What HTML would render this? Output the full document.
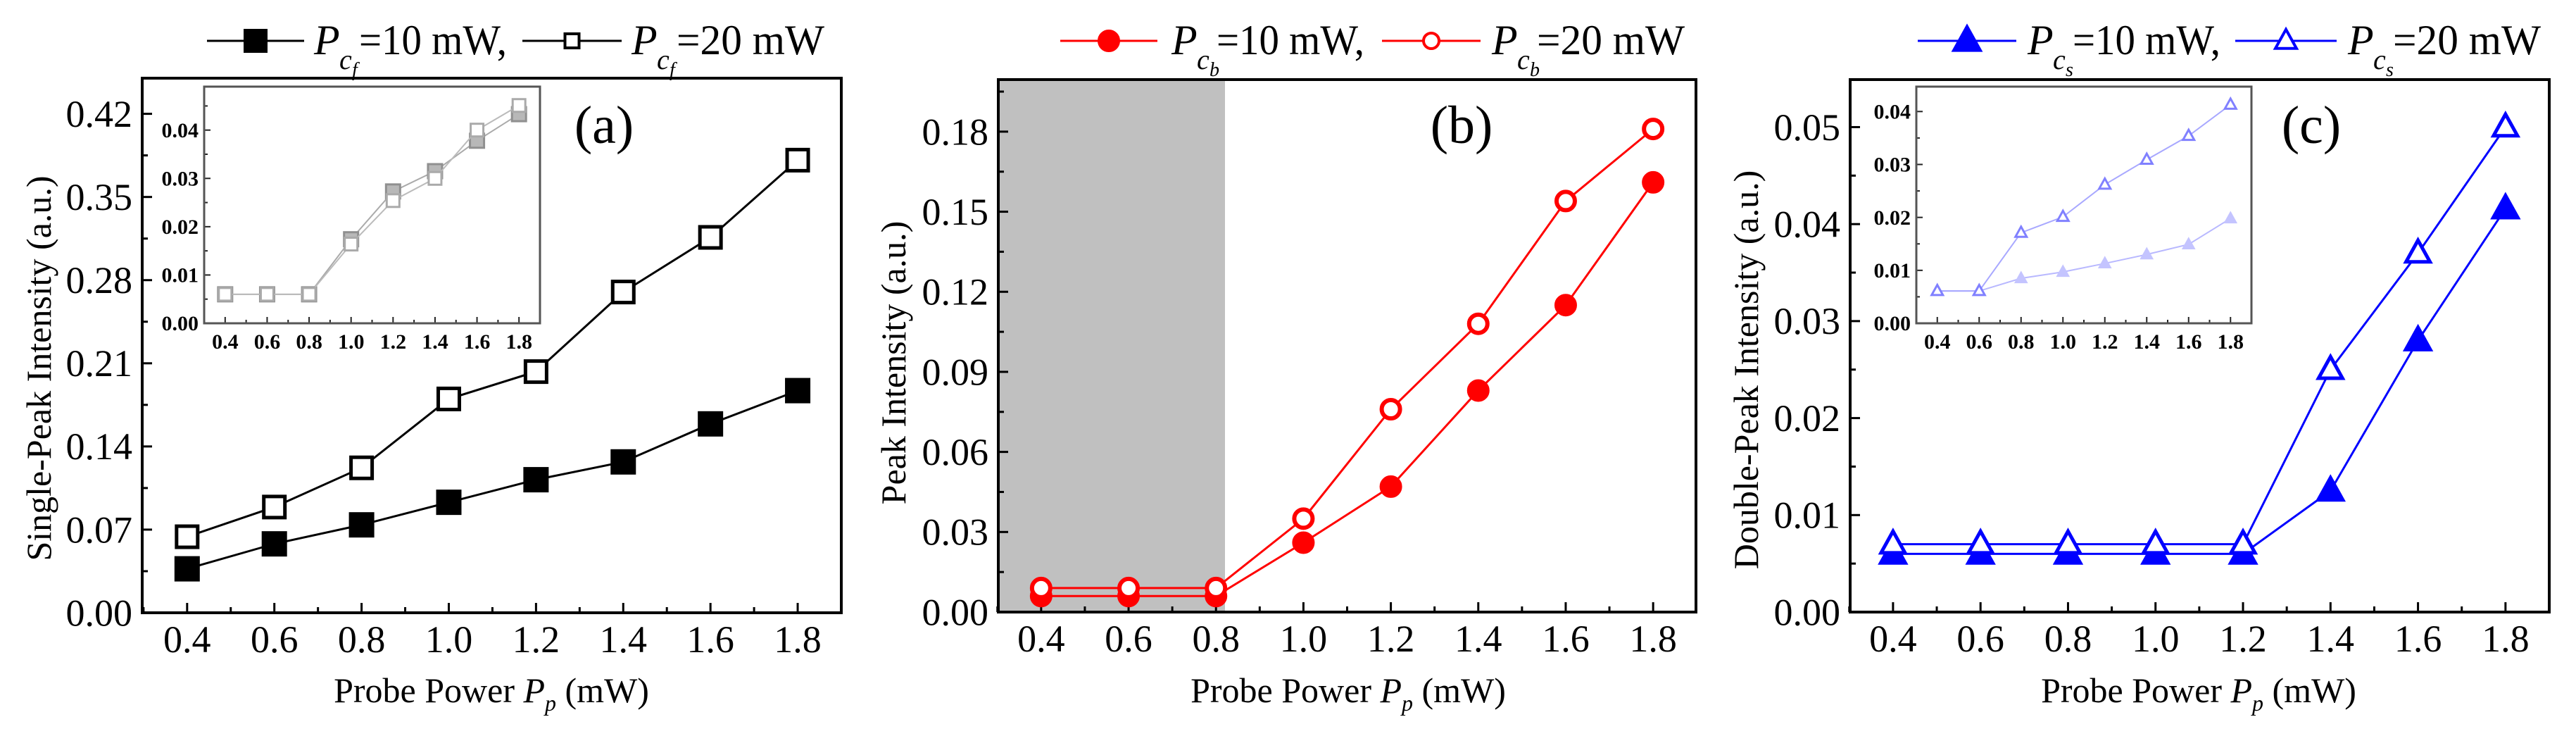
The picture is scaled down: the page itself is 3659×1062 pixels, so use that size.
<!DOCTYPE html>
<html><head><meta charset="utf-8">
<style>
html,body{margin:0;padding:0;background:#fff;}
svg, svg text{font-family:"Liberation Serif","Times New Roman","DejaVu Serif",serif;}
</style></head>
<body>
<svg id="fig" width="3659" height="1057" viewBox="0 0 3659 1057" xmlns="http://www.w3.org/2000/svg" font-family="Liberation Serif, Times New Roman, DejaVu Serif, serif"></svg>
<script>
// ---- data ----
const xCats = [0.4,0.6,0.8,1.0,1.2,1.4,1.6,1.8];
const xTickLabels = ["0.4","0.6","0.8","1.0","1.2","1.4","1.6","1.8"];
const aFilled = [0.037,0.058,0.074,0.093,0.112,0.127,0.159,0.187];
const aOpen   = [0.064,0.089,0.122,0.180,0.203,0.270,0.316,0.381];
const aInsetFilled = [0.006,0.006,0.006,0.0174,0.0273,0.0315,0.0378,0.0433];
const aInsetOpen   = [0.006,0.006,0.006,0.0164,0.0254,0.030,0.040,0.0451];
const bFilled = [0.006,0.006,0.006,0.026,0.047,0.083,0.115,0.161];
const bOpen   = [0.009,0.009,0.009,0.035,0.076,0.108,0.154,0.181];
const cFilled = [0.006,0.006,0.006,0.006,0.006,0.0125,0.028,0.0416];
const cOpen   = [0.007,0.007,0.007,0.007,0.007,0.025,0.037,0.050];
const cInsetFilled = [0.0061,0.0061,0.0085,0.0097,0.0113,0.013,0.0149,0.0198];
const cInsetOpen   = [0.0061,0.0061,0.0171,0.0201,0.0262,0.0309,0.0354,0.0413];
const aYTicks = ["0.00","0.07","0.14","0.21","0.28","0.35","0.42"];
const bYTicks = ["0.00","0.03","0.06","0.09","0.12","0.15","0.18"];
const cYTicks = ["0.00","0.01","0.02","0.03","0.04","0.05"];
const insetYTicks = ["0.00","0.01","0.02","0.03","0.04"];

const NS="http://www.w3.org/2000/svg";
const svg=document.getElementById('fig');
const FONT='Liberation Serif, Times New Roman, DejaVu Serif, serif';
function mk(tag,attrs,parent,text){const e=document.createElementNS(NS,tag);for(const k in attrs)e.setAttribute(k,attrs[k]);if(tag==='text')e.setAttribute('font-family',FONT);if(text!==undefined)e.textContent=text;(parent||svg).appendChild(e);return e;}

function axes(box,xmin,xmax,ymin,ymax){
  return {X:v=>box.l+(v-xmin)/(xmax-xmin)*(box.r-box.l), Y:v=>box.b-(v-ymin)/(ymax-ymin)*(box.b-box.t)};
}
function marker(g,shape,x,y,s,fill,stroke,sw){
  let e;
  if(shape==='sq'){e=mk('rect',{x:x-s/2,y:y-s/2,width:s,height:s,fill:fill,stroke:stroke,'stroke-width':sw},g);}
  else if(shape==='ci'){e=mk('circle',{cx:x,cy:y,r:s/2,fill:fill,stroke:stroke,'stroke-width':sw},g);}
  else {const h=s*0.9;e=mk('polygon',{points:`${x},${y-h*0.6} ${x-s/2},${y+h*0.4} ${x+s/2},${y+h*0.4}`,fill:fill,stroke:stroke,'stroke-width':sw},g);}
  
  
}
function series(g,ax,vals,color,lw,shape,s,fill,stroke,sw,name){
  const sg=mk('g',{},g);
  
  
  const pts=vals.map((v,i)=>ax.X(xCats[i])+','+ax.Y(v)).join(' ');
  mk('polyline',{points:pts,fill:'none',stroke:color,'stroke-width':lw},sg);
  vals.forEach((v,i)=>marker(sg,shape,ax.X(xCats[i]),ax.Y(v),s,fill,stroke,sw));
}
function frame(g,box,ax,yTicks,ystep,opt){
  const fs=opt.fs, maj=opt.maj, mn=opt.mn, fw=opt.fw;
  for(let k=0;k<=15;k++){const v=0.3+k*0.1; if(v>opt.xmax+1e-9)break; const x=ax.X(v); const major=(k%2===1);
    mk('line',{x1:x,x2:x,y1:box.b,y2:box.b-(major?maj:mn),stroke:opt.tc,'stroke-width':opt.tw},g);}
  xTickLabels.forEach((t,i)=>{const e=mk('text',{x:ax.X(xCats[i]),y:box.b+opt.xly,'font-size':fs,'text-anchor':'middle','font-weight':opt.bold?'bold':'normal'},g,t);
    });
  yTicks.forEach((t,i)=>{const v=i*ystep; const y=ax.Y(v);
    mk('line',{x1:box.l,x2:box.l+maj,y1:y,y2:y,stroke:opt.tc,'stroke-width':opt.tw},g);
    const vm=v+ystep/2; if(vm<opt.ymax){const ym=ax.Y(vm);mk('line',{x1:box.l,x2:box.l+mn,y1:ym,y2:ym,stroke:opt.tc,'stroke-width':opt.tw},g);}
    const e=mk('text',{x:box.l-opt.ylx,y:y+fs*0.34,'font-size':fs,'text-anchor':'end','font-weight':opt.bold?'bold':'normal'},g,t);
    });
  mk('rect',{x:box.l,y:box.t,width:box.r-box.l,height:box.b-box.t,fill:'none',stroke:opt.fc,'stroke-width':fw},g);
}
function legendEntry(g,x1,x2,shape,s,fill,stroke,color,px,sub,txt){
  const lg=mk('g',{},g);
  
  
  mk('line',{x1:x1,x2:x2,y1:58,y2:58,stroke:color,'stroke-width':3},lg);
  marker(lg,shape,(x1+x2)/2,58,s,fill,stroke,4);
  mk('text',{x:px,y:77,'font-size':60,'font-style':'italic'},lg,'P');
  mk('text',{x:px+36,y:98,'font-size':40,'font-style':'italic'},lg,'c');
  mk('text',{x:px+54,y:108,'font-size':28,'font-style':'italic'},lg,sub);
  mk('text',{x:px+64,y:77,'font-size':60,textLength:txt.length>7?224:210,lengthAdjust:'spacingAndGlyphs'},lg,txt);
}
function xTitle(g,cx){
  const t=mk('text',{x:cx,y:997,'font-size':50,'text-anchor':'middle'},g);
  
  mk('tspan',{},t,'Probe Power ');mk('tspan',{'font-style':'italic'},t,'P');
  mk('tspan',{'font-style':'italic','font-size':32,dy:12},t,'p');mk('tspan',{dy:-12},t,' (mW)');
}
function yTitle(g,x,cy,txt){
  const t=mk('text',{x:x,y:cy,'font-size':50,'text-anchor':'middle',transform:`rotate(-90 ${x} ${cy})`},g,txt);
  
}
const mainOpt={fs:54,maj:14,mn:8,fw:4,tw:3,tc:'#000',fc:'#000',xly:56,ylx:14,xmax:1.9,bold:false};

// ---- panel a ----
const ga=mk('g',{});
const boxA={l:202,r:1195,t:111,b:870};
const axA=axes(boxA,0.297,1.9,0,0.45);
frame(ga,boxA,axA,aYTicks,0.07,Object.assign({},mainOpt,{ymax:0.45}));
series(ga,axA,aFilled,'#000',3,'sq',34,'#000','#000',2,'series-a-10mw');
series(ga,axA,aOpen,'#000',3,'sq',30,'#fff','#000',5,'series-a-20mw');
const boxAi={l:290,r:767,t:123,b:459};
const axAi=axes(boxAi,0.3,1.9,0,0.049);
const gai=mk('g',{},ga);
mk('rect',{x:boxAi.l,y:boxAi.t,width:boxAi.r-boxAi.l,height:boxAi.b-boxAi.t,fill:'#fff'},gai);
frame(gai,boxAi,axAi,insetYTicks,0.01,{fs:30,maj:9,mn:5,fw:3,tw:2,tc:'#222',fc:'#555',xly:36,ylx:8,xmax:1.9,ymax:0.049,bold:true});
series(gai,axAi,aInsetFilled,'#aaa',2,'sq',20,'#b8b8b8','#909090',3,'inset-a-10mw');
series(gai,axAi,aInsetOpen,'#bbb',2,'sq',18,'#fff','#aaa',3,'inset-a-20mw');
mk('text',{x:858,y:203,'font-size':76,'text-anchor':'middle'},ga,'(a)');
legendEntry(ga,294,432,'sq',30,'#000','#000','#000',446,'f','=10 mW,');
legendEntry(ga,742,883,'sq',20,'#fff','#000','#000',897,'f','=20 mW');
xTitle(ga,698);yTitle(ga,72,523,'Single-Peak Intensity (a.u.)');

// ---- panel b ----
const gb=mk('g',{});
const boxB={l:1418,r:2409,t:113,b:869};
const axB=axes(boxB,0.302,1.898,0,0.1995);
const shade=mk('rect',{x:boxB.l,y:boxB.t,width:1740-boxB.l,height:boxB.b-boxB.t,fill:'#c0c0c0'},gb);

frame(gb,boxB,axB,bYTicks,0.03,Object.assign({},mainOpt,{ymax:0.1995}));
series(gb,axB,bFilled,'#f00',3,'ci',30,'#f00','#f00',2,'series-b-10mw');
series(gb,axB,bOpen,'#f00',3,'ci',26,'#fff','#f00',6,'series-b-20mw');
mk('text',{x:2076,y:203,'font-size':76,'text-anchor':'middle'},gb,'(b)');
legendEntry(gb,1506,1644,'ci',28,'#f00','#f00','#f00',1664,'b','=10 mW,');
legendEntry(gb,1963,2103,'ci',22,'#fff','#f00','#f00',2119,'b','=20 mW');
xTitle(gb,1915);yTitle(gb,1286,515,'Peak Intensity (a.u.)');

// ---- panel c ----
const gc=mk('g',{});
const boxC={l:2628,r:3621,t:113,b:869};
const axC=axes(boxC,0.302,1.9,0,0.0549);
frame(gc,boxC,axC,cYTicks,0.01,Object.assign({},mainOpt,{ymax:0.0549}));
series(gc,axC,cFilled,'#00f',3,'tri',40,'#00f','#00f',2,'series-c-10mw');
series(gc,axC,cOpen,'#00f',3,'tri',34,'#fff','#00f',5,'series-c-20mw');
const boxCi={l:2722,r:3198,t:123,b:459};
const axCi=axes(boxCi,0.3,1.9,0,0.0447);
const gci=mk('g',{},gc);
mk('rect',{x:boxCi.l,y:boxCi.t,width:boxCi.r-boxCi.l,height:boxCi.b-boxCi.t,fill:'#fff'},gci);
frame(gci,boxCi,axCi,insetYTicks,0.01,{fs:30,maj:9,mn:5,fw:3,tw:2,tc:'#222',fc:'#555',xly:36,ylx:8,xmax:1.9,ymax:0.0447,bold:true});
series(gci,axCi,cInsetFilled,'#b8b8ff',2,'tri',18,'#c4c4ff','#c4c4ff',1,'inset-c-10mw');
series(gci,axCi,cInsetOpen,'#a8a8ff',2,'tri',16,'#fff','#8080ff',3,'inset-c-20mw');
mk('text',{x:3283,y:203,'font-size':76,'text-anchor':'middle'},gc,'(c)');
legendEntry(gc,2724,2864,'tri',38,'#00f','#00f','#00f',2880,'s','=10 mW,');
legendEntry(gc,3175,3319,'tri',30,'#fff','#00f','#00f',3335,'s','=20 mW');
xTitle(gc,3123);yTitle(gc,2497,525,'Double-Peak Intensity (a.u.)');
</script>
</body></html>
